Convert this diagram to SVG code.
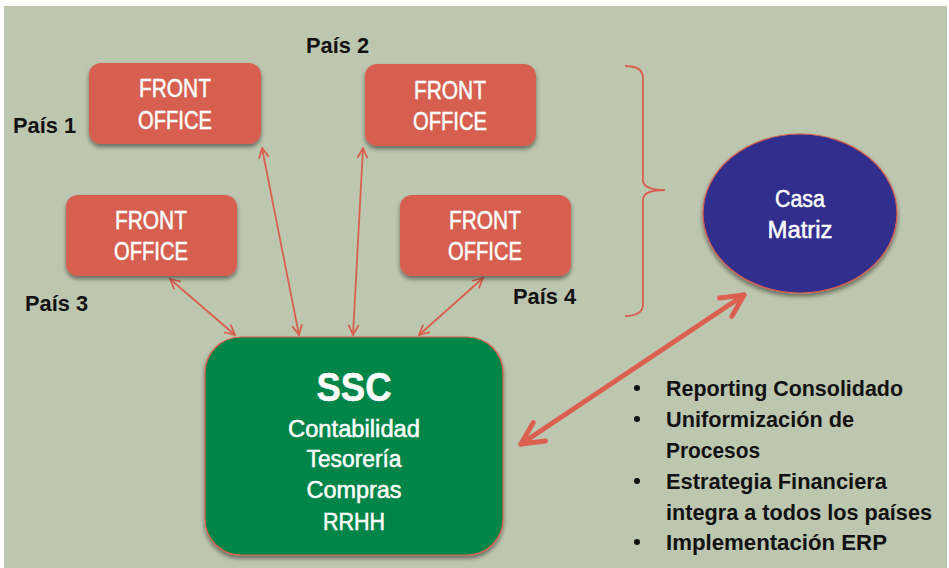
<svg xmlns="http://www.w3.org/2000/svg" width="949" height="568" viewBox="0 0 949 568">
<defs>
<style>
.fo{fill:#D65F4F;}
.wt{fill:#FFFFFF;stroke:#FFFFFF;stroke-width:0.5;font-family:"Liberation Sans",Arial,sans-serif;text-anchor:middle;}
.bk{fill:#111111;font-family:"Liberation Sans",Arial,sans-serif;font-weight:bold;}
.thin{stroke:#D9604E;stroke-width:1.8;fill:none;marker-start:url(#oa);marker-end:url(#oa);}
.thick{stroke:#DB6050;stroke-width:5;fill:none;stroke-linecap:round;marker-start:url(#ta);marker-end:url(#ta);}
</style>
<marker id="oa" viewBox="0 0 12 12" refX="11" refY="6" markerWidth="12" markerHeight="12" markerUnits="userSpaceOnUse" orient="auto-start-reverse">
<path d="M1,1 L11,6 L1,11" fill="none" stroke="#D9604E" stroke-width="1.8"/>
</marker>
<marker id="ta" viewBox="0 0 30 30" refX="27" refY="15" markerWidth="30" markerHeight="30" markerUnits="userSpaceOnUse" orient="auto-start-reverse">
<path d="M5,4 L27,15 L5,26" fill="none" stroke="#DB6050" stroke-width="5" stroke-linecap="round" stroke-linejoin="round"/>
</marker>
<filter id="sh" x="-10%" y="-10%" width="120%" height="130%">
<feDropShadow dx="0" dy="3" stdDeviation="2" flood-color="#000" flood-opacity="0.45"/>
</filter>
</defs>
<rect x="0" y="0" width="949" height="568" fill="#FFFFFF"/>
<rect x="4" y="6" width="943" height="562" fill="#BDC6AF"/>

<g id="connectors">
<line class="thin" x1="170" y1="279" x2="235" y2="335"/>
<line class="thin" x1="262" y1="148" x2="299" y2="335"/>
<line class="thin" x1="363" y1="148" x2="353" y2="335"/>
<line class="thin" x1="483" y1="278" x2="419" y2="335"/>
<line class="thick" x1="521" y1="444" x2="744" y2="295"/>
<path d="M625,66 Q643,66 643,78 L643,180 Q643,190 665,190 Q643,190 643,200 L643,304 Q643,316 625,316" fill="none" stroke="#D9604E" stroke-width="1.8"/>
</g>

<g id="fo1">
<rect class="fo" x="89" y="63" width="172" height="81" rx="12" filter="url(#sh)"/>
<text class="wt" font-size="25" x="175" y="97" textLength="72" lengthAdjust="spacingAndGlyphs">FRONT</text>
<text class="wt" font-size="25" x="175" y="129" textLength="74" lengthAdjust="spacingAndGlyphs">OFFICE</text>
</g>
<g id="fo2">
<rect class="fo" x="365" y="64" width="171" height="82" rx="12" filter="url(#sh)"/>
<text class="wt" font-size="25" x="450" y="99" textLength="72" lengthAdjust="spacingAndGlyphs">FRONT</text>
<text class="wt" font-size="25" x="450" y="130" textLength="74" lengthAdjust="spacingAndGlyphs">OFFICE</text>
</g>
<g id="fo3">
<rect class="fo" x="66" y="195" width="171" height="81" rx="12" filter="url(#sh)"/>
<text class="wt" font-size="25" x="151" y="229" textLength="72" lengthAdjust="spacingAndGlyphs">FRONT</text>
<text class="wt" font-size="25" x="151" y="260" textLength="74" lengthAdjust="spacingAndGlyphs">OFFICE</text>
</g>
<g id="fo4">
<rect class="fo" x="400" y="195" width="171" height="81" rx="12" filter="url(#sh)"/>
<text class="wt" font-size="25" x="485" y="229" textLength="72" lengthAdjust="spacingAndGlyphs">FRONT</text>
<text class="wt" font-size="25" x="485" y="260" textLength="74" lengthAdjust="spacingAndGlyphs">OFFICE</text>
</g>

<g id="labels">
<text class="bk" font-size="22" x="13" y="133" textLength="63" lengthAdjust="spacingAndGlyphs">País 1</text>
<text class="bk" font-size="22" x="306" y="53" textLength="63" lengthAdjust="spacingAndGlyphs">País 2</text>
<text class="bk" font-size="22" x="25" y="311" textLength="63" lengthAdjust="spacingAndGlyphs">País 3</text>
<text class="bk" font-size="22" x="513" y="304" textLength="63" lengthAdjust="spacingAndGlyphs">País 4</text>
</g>

<g id="ssc">
<rect x="205" y="337" width="298" height="218" rx="36" fill="#04854A" stroke="#D9604E" stroke-width="1.2" filter="url(#sh)"/>
<text class="wt" font-size="40" font-weight="bold" x="354" y="401" textLength="75" lengthAdjust="spacingAndGlyphs">SSC</text>
<text class="wt" font-size="23" x="354" y="437" textLength="132" lengthAdjust="spacingAndGlyphs">Contabilidad</text>
<text class="wt" font-size="23" x="354" y="467" textLength="95" lengthAdjust="spacingAndGlyphs">Tesorería</text>
<text class="wt" font-size="23" x="354" y="498" textLength="95" lengthAdjust="spacingAndGlyphs">Compras</text>
<text class="wt" font-size="23" x="354" y="530" textLength="62" lengthAdjust="spacingAndGlyphs">RRHH</text>
</g>

<g id="casa">
<ellipse cx="800" cy="213.5" rx="97" ry="79.5" fill="#312E8E" stroke="#D9604E" stroke-width="1.2" filter="url(#sh)"/>
<text class="wt" font-size="23" x="800" y="207" textLength="50" lengthAdjust="spacingAndGlyphs">Casa</text>
<text class="wt" font-size="23" x="800" y="238" textLength="65" lengthAdjust="spacingAndGlyphs">Matriz</text>
</g>

<g id="bullets" class="bk" font-size="22">
<circle cx="637" cy="388" r="3" fill="#111"/>
<circle cx="637" cy="419" r="3" fill="#111"/>
<circle cx="637" cy="481" r="3" fill="#111"/>
<circle cx="637" cy="542" r="3" fill="#111"/>
<text x="666" y="396" textLength="237" lengthAdjust="spacingAndGlyphs">Reporting Consolidado</text>
<text x="666" y="427" textLength="188" lengthAdjust="spacingAndGlyphs">Uniformización de</text>
<text x="666" y="458" textLength="94" lengthAdjust="spacingAndGlyphs">Procesos</text>
<text x="666" y="489" textLength="221" lengthAdjust="spacingAndGlyphs">Estrategia Financiera</text>
<text x="666" y="520" textLength="266" lengthAdjust="spacingAndGlyphs">integra a todos los países</text>
<text x="666" y="550" textLength="221" lengthAdjust="spacingAndGlyphs">Implementación ERP</text>
</g>
</svg>
